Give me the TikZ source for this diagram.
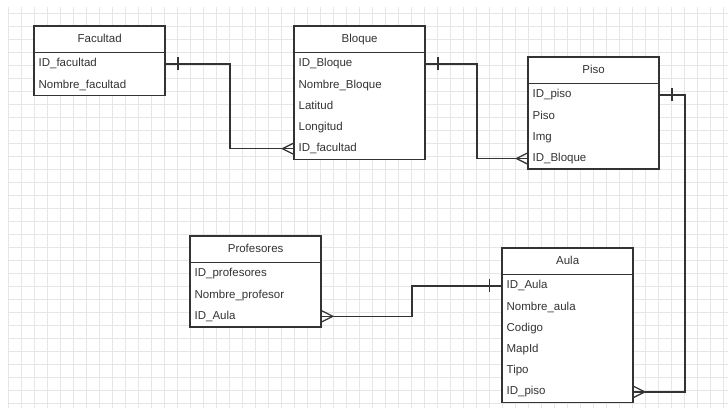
\documentclass[tikz,border=0pt]{standalone}
\usepackage{fontspec}
\setmainfont{Liberation Sans}
\usetikzlibrary{positioning}

\definecolor{ink}{HTML}{333333}
\definecolor{gridgray}{HTML}{E6E6E6}

\pgfdeclarelayer{paper}
\pgfsetlayers{paper,main}

\begin{document}
\begin{tikzpicture}[x=1pt, y=-1pt,
        box/.style={draw=ink, line width=1.3pt},
        title/.style={box, fill=white, text=ink, minimum width=130pt, minimum height=26pt,
            text height=8.5pt, text depth=2.5pt,
            inner sep=0pt, anchor=north west, font=\fontsize{11.5}{13}\selectfont},
        field/.style={text=ink, minimum width=130pt, minimum height=20.8pt,
            text width=122pt, text height=8.5pt, text depth=2.5pt,
            inner xsep=4pt, inner ysep=0pt, align=left,
            font=\fontsize{11.5}{13}\selectfont},
        conn/.style={draw=ink, line width=1.3pt},
        onemark/.pic={\draw[conn] (13,-6.5) -- (13,6.5);},
        manymark/.pic={\draw[conn] (0,-6) -- (12,0) -- (0,6);}]
        \useasboundingbox (0,0) rectangle (728,408);

        % Facultad
        \node [title] (facultad) at (34,26) {Facultad};
        \node [field, below=0pt of facultad] (facultad-id) {ID\_facultad};
        \node [field, below=0pt of facultad-id] (facultad-nombre) {Nombre\_facultad};

        % Bloque
        \node [title] (bloque) at (294,26) {Bloque};
        \node [field, below=0pt of bloque] (bloque-id) {ID\_Bloque};
        \node [field, below=0pt of bloque-id] (bloque-nombre) {Nombre\_Bloque};
        \node [field, below=0pt of bloque-nombre] (bloque-lat) {Latitud};
        \node [field, below=0pt of bloque-lat] (bloque-lon) {Longitud};
        \node [field, below=0pt of bloque-lon] (bloque-fac) {ID\_facultad};

        % Piso
        \node [title] (piso) at (528,57) {Piso};
        \node [field, below=0pt of piso] (piso-id) {ID\_piso};
        \node [field, below=0pt of piso-id] (piso-piso) {Piso};
        \node [field, below=0pt of piso-piso] (piso-img) {Img};
        \node [field, below=0pt of piso-img] (piso-bloque) {ID\_Bloque};

        % Profesores
        \node [title] (profesores) at (190,236) {Profesores};
        \node [field, below=0pt of profesores] (prof-id) {ID\_profesores};
        \node [field, below=0pt of prof-id] (prof-nombre) {Nombre\_profesor};
        \node [field, below=0pt of prof-nombre] (prof-aula) {ID\_Aula};

        % Aula
        \node [title] (aula) at (502,248) {Aula};
        \node [field, below=0pt of aula] (aula-id) {ID\_Aula};
        \node [field, below=0pt of aula-id] (aula-nombre) {Nombre\_aula};
        \node [field, below=0pt of aula-nombre] (aula-codigo) {Codigo};
        \node [field, below=0pt of aula-codigo] (aula-mapid) {MapId};
        \node [field, below=0pt of aula-mapid] (aula-tipo) {Tipo};
        \node [field, below=0pt of aula-tipo] (aula-piso) {ID\_piso};

        % grid paper and table bodies
        \begin{pgfonlayer}{paper}
            \foreach \gx in {8,21,...,727}
                \draw [gridgray, line width=0.8pt] (\gx,7) -- (\gx,408);
            \foreach \gy in {13,26,...,407}
                \draw [gridgray, line width=0.8pt] (8,\gy) -- (728,\gy);
            \draw [box, fill=white] (facultad.north west) rectangle (facultad-nombre.south east);
            \draw [box, fill=white] (bloque.north west) rectangle (bloque-fac.south east);
            \draw [box, fill=white] (piso.north west) rectangle (piso-bloque.south east);
            \draw [box, fill=white] (profesores.north west) rectangle (prof-aula.south east);
            \draw [box, fill=white] (aula.north west) rectangle (aula-piso.south east);
        \end{pgfonlayer}

        % relations
        \draw [conn] (facultad-id.east) -- ++(65,0) |- (bloque-fac.west);
        \pic at (facultad-id.east) {onemark};
        \pic [xscale=-1] at (bloque-fac.west) {manymark};

        \draw [conn] (bloque-id.east) -- ++(52,0) |- (piso-bloque.west);
        \pic at (bloque-id.east) {onemark};
        \pic [xscale=-1] at (piso-bloque.west) {manymark};

        \draw [conn] (piso-id.east) -- ++(26,0) |- (aula-piso.east);
        \pic at (piso-id.east) {onemark};
        \pic at (aula-piso.east) {manymark};

        \draw [conn] (prof-aula.east) -- ++(91,0) |- (aula-id.west);
        \pic at (prof-aula.east) {manymark};
        \pic [xscale=-1] at (aula-id.west) {onemark};
    \end{tikzpicture}
\end{document}
